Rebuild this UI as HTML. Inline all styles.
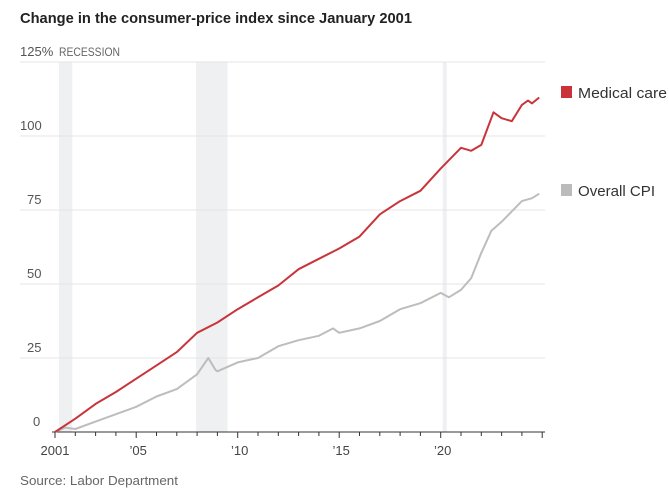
<!DOCTYPE html>
<html><head><meta charset="utf-8"><style>
body{margin:0;background:#fff;font-family:"Liberation Sans",sans-serif;}
svg text{font-family:"Liberation Sans",sans-serif;}
</style></head><body>
<svg width="669" height="492" id="c">
<text x="20" y="23" font-size="15" font-weight="bold" fill="#222" textLength="392" lengthAdjust="spacingAndGlyphs">Change in the consumer-price index since January 2001</text>
<text x="20" y="485" font-size="13" fill="#666" textLength="158" lengthAdjust="spacingAndGlyphs">Source: Labor Department</text>
<g id="rec"></g><g id="grid"></g><g id="axis"></g><g id="lines"></g>
<g>
<rect x="561" y="86" width="11" height="12" fill="#c9343b"/>
<text x="578" y="98" font-size="15" fill="#333" textLength="89" lengthAdjust="spacingAndGlyphs">Medical care</text>
<rect x="561" y="184" width="11" height="12" fill="#bbb"/>
<text x="578" y="196" font-size="15" fill="#333" textLength="77" lengthAdjust="spacingAndGlyphs">Overall CPI</text>
</g>
</svg>
<script>
const yTicks=[0,25,50,75,100,125];
const yTickLabels=["0","25","50","75","100","125%"];
const xTicks=[2001,2005,2010,2015,2020];
const xTickLabels=["2001","’05","’10","’15","’20"];
const recessions=[[2001.2,2001.85],[2007.95,2009.5],[2020.1,2020.3]];
const medYears=[2001,2002,2003,2004,2005,2006,2007,2008,2009,2010,2011,2012,2013,2014,2015,2016,2017,2018,2019,2020,2021,2021.5,2022,2022.6,2023,2023.5,2024,2024.3,2024.5,2024.85];
const medVals=[0,4.5,9.5,13.5,18,22.5,27,33.5,37,41.5,45.5,49.5,55,58.5,62,66,73.5,78,81.5,89,96,95,97,108,106,105,110.5,112,111,113];
const cpiYears=[2001,2001.5,2002,2003,2004,2005,2006,2007,2008,2008.55,2008.9,2009,2010,2011,2012,2013,2014,2014.7,2015,2016,2017,2018,2019,2020,2020.4,2021,2021.5,2022,2022.5,2023,2024,2024.5,2024.85];
const cpiVals=[0,1.5,1,3.5,6,8.5,12,14.5,19.5,25,21,20.5,23.5,25,29,31,32.5,35,33.5,35,37.5,41.5,43.5,47,45.5,48,52,60.5,68,71,78,79,80.5];
const NS="http://www.w3.org/2000/svg";
const X=y=>55+(y-2001)*20.3, Y=v=>432-v*2.96;
function mk(t,a,p){const e=document.createElementNS(NS,t);for(const k in a)e.setAttribute(k,a[k]);document.getElementById(p).appendChild(e);return e;}
recessions.forEach(r=>{const e=mk('rect',{x:X(r[0]),y:Y(125),width:X(r[1])-X(r[0]),height:Y(0)-Y(125),fill:'#eef0f2'},'rec');

});
const rl=mk('text',{x:59,y:56,'font-size':12,fill:'#666',textLength:61,lengthAdjust:'spacingAndGlyphs'},'axis');rl.textContent='RECESSION';


yTicks.forEach((v,i)=>{if(v>0){const g=mk('line',{x1:20,x2:545,y1:Y(v),y2:Y(v),stroke:'#e4e4e4'},'grid');

}
const t=mk('text',{x:i==5?20:(v==0?33:(v>=100?20:27)),y:Y(v)-6,'font-size':13,fill:'#555'},'axis');t.textContent=yTickLabels[i];

});
const ax=mk('line',{x1:52,x2:545,y1:432,y2:432,stroke:'#333'},'axis');


for(let y=2001;y<=2025;y++){const tk=mk('line',{x1:X(y),x2:X(y),y1:432,y2:y%5==0||y==2001?438:436,stroke:'#333'},'axis');

}
xTicks.forEach((y,i)=>{const t=mk('text',{x:X(y)+(i==0?0:2),y:455,'font-size':13,fill:'#444','text-anchor':'middle'},'axis');t.textContent=xTickLabels[i];

});
function line(xs,vs,c,n){const p=mk('path',{d:xs.map((x,i)=>(i?'L':'M')+X(x).toFixed(1)+' '+Y(vs[i]).toFixed(1)).join(''),fill:'none',stroke:c,'stroke-width':2,'stroke-linejoin':'round'},'lines');

}
line(cpiYears,cpiVals,'#bdbdbd','overall-cpi-line');
line(medYears,medVals,'#c9343b','medical-care-line');
</script>
</body></html>
